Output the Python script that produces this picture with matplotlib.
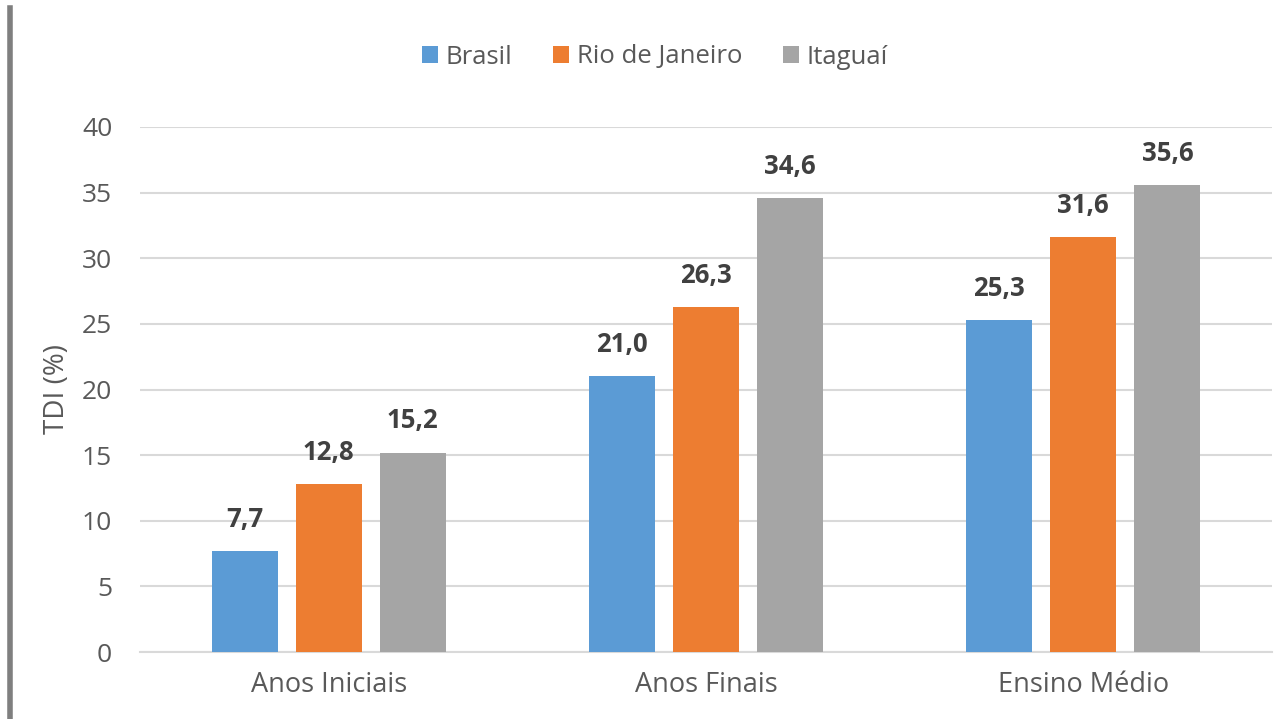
import matplotlib
matplotlib.use("Agg")
import matplotlib.pyplot as plt
import numpy as np
from matplotlib.lines import Line2D

categories = ["Anos Iniciais", "Anos Finais", "Ensino Médio"]
series_names = ["Brasil", "Rio de Janeiro", "Itaguaí"]
brasil = [7.7, 21.0, 25.3]
rio = [12.8, 26.3, 31.6]
itaguai = [15.2, 34.6, 35.6]
yticks = [0, 5, 10, 15, 20, 25, 30, 35, 40]
colors = ["#5B9BD5", "#ED7D31", "#A5A5A5"]

plt.rcParams['font.family'] = ['Open Sans', 'DejaVu Sans']

fig = plt.figure(figsize=(12.82, 7.19), dpi=100)
left, right, bottom, top = 140 / 1282, 1272 / 1282, 1 - 652 / 719, 1 - 127 / 719
ax = fig.add_axes([left, bottom, right - left, top - bottom])

x = np.arange(len(categories))
width = 0.175
offsets = [-0.223, 0.0, 0.223]
for vals, name, col, off in zip([brasil, rio, itaguai], series_names, colors, offsets):
    bars = ax.bar(x + off, vals, width, color=col, label=name, zorder=3)
    for b, v in zip(bars, vals):
        ax.annotate(f"{v:.1f}".replace(".", ","), (b.get_x() + b.get_width() / 2, v),
                    xytext=(0, 13), textcoords="offset points", ha="center", va="bottom",
                    fontsize=18.5, fontweight="bold", color="#404040")

ax.set_xlim(-0.5, 2.5)
ax.set_ylim(0, 40)
ax.set_yticks(yticks)
ax.set_yticklabels([str(t) for t in yticks])
ax.set_xticks(x)
ax.set_xticklabels(categories)
ax.tick_params(axis="y", length=0, labelsize=19, colors="#595959", pad=20)
ax.tick_params(axis="x", length=0, labelsize=19.5, colors="#595959", pad=14)
ax.yaxis.grid(True, color="#D9D9D9", linewidth=1.5, zorder=0)
for s in ["top", "right", "left"]:
    ax.spines[s].set_visible(False)
ax.spines["bottom"].set_color("#D9D9D9")
ax.spines["bottom"].set_linewidth(1.5)
ax.set_ylabel("TDI (%)", fontsize=20, color="#595959", labelpad=8)

lx = (655 / 1282 - left) / (right - left)
ly = (1 - 57 / 719 - bottom) / (top - bottom)
ax.legend(loc="center", bbox_to_anchor=(lx, ly),
          ncol=3, frameon=False, fontsize=18.5, handlelength=0.6, handleheight=0.6,
          handletextpad=0.3, columnspacing=1.6, labelcolor="#595959")

fig.add_artist(Line2D([10 / 1282, 10 / 1282], [0, 1 - 8 / 719], transform=fig.transFigure,
                      color="#7F7F7F", linewidth=4))

fig.savefig("out.png", dpi=100, facecolor="white")
